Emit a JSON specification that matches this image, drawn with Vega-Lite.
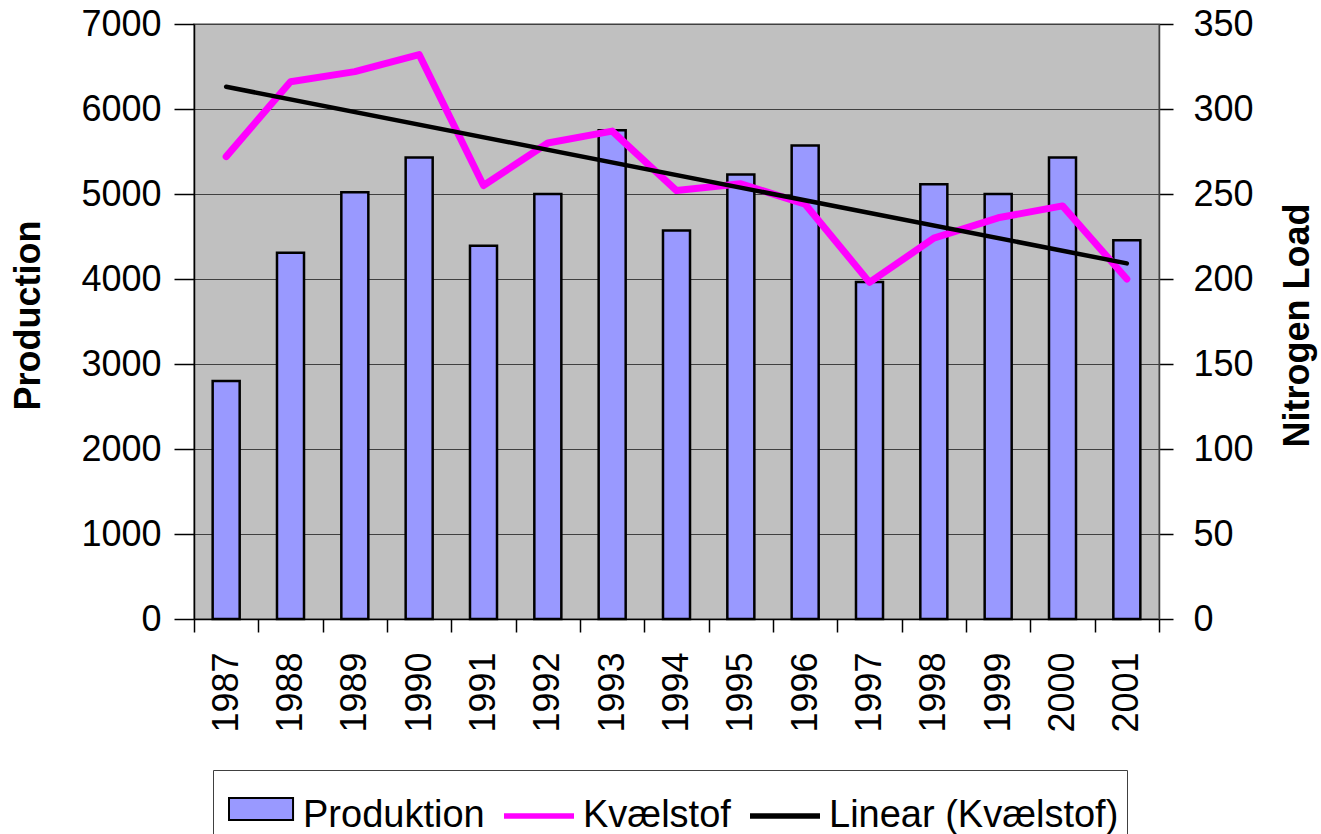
{
  "$schema": "https://vega.github.io/schema/vega-lite/v6.json",
  "autosize": "none",
  "width": 965,
  "height": 595,
  "padding": {"left": 194, "top": 24, "right": 162, "bottom": 215},
  "background": "white",
  "config": {
    "view": {"fill": "#C0C0C0", "stroke": "#808080", "strokeWidth": 1.5},
    "font": "Liberation Sans",
    "axis": {"labelFont": "Liberation Sans", "titleFont": "Liberation Sans", "labelColor": "black", "titleColor": "black", "labelOverlap": false}
  },
  "data": {
    "values": [
      {"year": 1987, "prod": 2800, "kv": 272},
      {"year": 1988, "prod": 4310, "kv": 316},
      {"year": 1989, "prod": 5020, "kv": 322},
      {"year": 1990, "prod": 5430, "kv": 332},
      {"year": 1991, "prod": 4390, "kv": 255},
      {"year": 1992, "prod": 5000, "kv": 280},
      {"year": 1993, "prod": 5750, "kv": 287},
      {"year": 1994, "prod": 4570, "kv": 252},
      {"year": 1995, "prod": 5230, "kv": 256},
      {"year": 1996, "prod": 5570, "kv": 244},
      {"year": 1997, "prod": 3965, "kv": 198},
      {"year": 1998, "prod": 5115, "kv": 224},
      {"year": 1999, "prod": 5000, "kv": 236},
      {"year": 2000, "prod": 5430, "kv": 243},
      {"year": 2001, "prod": 4455, "kv": 200}
    ]
  },
  "layer": [
    {
      "mark": {"type": "bar", "stroke": "black", "strokeWidth": 2.5, "width": {"band": 0.42}},
      "encoding": {
        "x": {
          "field": "year", "type": "ordinal",
          "scale": {"paddingInner": 0, "paddingOuter": 0},
          "axis": {
            "title": null, "labelAngle": 270, "labelFontSize": 36, "labelPadding": 20,
            "tickSize": 13, "tickColor": "black", "tickWidth": 1.5, "domainColor": "black", "domainWidth": 1.5,
            "tickBand": "extent", "grid": false
          }
        },
        "y": {
          "field": "prod", "type": "quantitative",
          "scale": {"domain": [0, 7000]},
          "axis": {
            "title": "Production", "titleFontSize": 36, "titleFontWeight": "bold",
            "titleAngle": 270, "titleX": -166, "titleY": 291, "titleAlign": "center", "titleBaseline": "middle",
            "values": [0, 1000, 2000, 3000, 4000, 5000, 6000, 7000], "format": "d",
            "labelFontSize": 36, "tickSize": 20, "labelPadding": 13,
            "tickColor": "black", "tickWidth": 1.5, "domainColor": "black", "domainWidth": 1.5,
            "grid": true, "gridColor": "#404040", "gridWidth": 1
          }
        },
        "fill": {
          "datum": "Produktion",
          "scale": {"domain": ["Produktion"], "range": ["#9999FF"]},
          "legend": {
            "orient": "none", "legendX": 34, "legendY": 749,
            "title": null, "labelExpr": "''", "labelOffset": 0,
            "symbolSize": 4900, "padding": 0,
            "symbolType": "M-1.0,-0.314H0.83V0.314H-1.0Z",
            "symbolStrokeColor": "black", "symbolStrokeWidth": 2, "symbolOpacity": 1, "zindex": 2
          }
        }
      }
    },
    {
      "layer": [
        {
          "mark": {"type": "line", "strokeWidth": 7, "strokeCap": "round", "strokeJoin": "round"},
          "encoding": {
            "x": {"field": "year", "type": "ordinal"},
            "y": {
              "field": "kv", "type": "quantitative",
              "scale": {"domain": [0, 350]},
              "axis": {
                "orient": "right", "title": "Nitrogen Load", "titleFontSize": 36, "titleFontWeight": "bold",
                "titleAngle": 270, "titleX": 138, "titleY": 301, "titleAlign": "center", "titleBaseline": "middle",
                "values": [0, 50, 100, 150, 200, 250, 300, 350], "format": "d",
                "labelFontSize": 36, "tickSize": 14, "labelPadding": 20,
                "tickColor": "black", "tickWidth": 1.5, "domainColor": "#404040", "domainWidth": 1.5,
                "grid": false
              }
            },
            "stroke": {
              "datum": "Kvælstof",
              "scale": {"domain": ["Produktion", "Kvælstof", "Linear (Kvælstof)"], "range": ["transparent", "#FF00FF", "#000000"]},
              "legend": {
                "orient": "none", "legendX": 19, "legendY": 746, "direction": "horizontal",
                "title": null,
                "labelFontSize": 38, "labelColor": "black", "labelFont": "Liberation Sans", "labelLimit": 0,
                "symbolSize": 4900, "symbolType": "stroke", "symbolStrokeWidth": 5.5,
                "labelOffset": 6, "columnPadding": 8, "padding": 8,
                "strokeColor": "#404040", "zindex": 1
              }
            }
          }
        },
        {
          "transform": [{"regression": "kv", "on": "year"}],
          "mark": {"type": "line", "strokeWidth": 4.5, "strokeCap": "round"},
          "encoding": {
            "x": {"field": "year", "type": "ordinal"},
            "y": {"field": "kv", "type": "quantitative"},
            "stroke": {"datum": "Linear (Kvælstof)"}
          }
        }
      ]
    }
  ],
  "resolve": {"scale": {"y": "independent"}}
}
